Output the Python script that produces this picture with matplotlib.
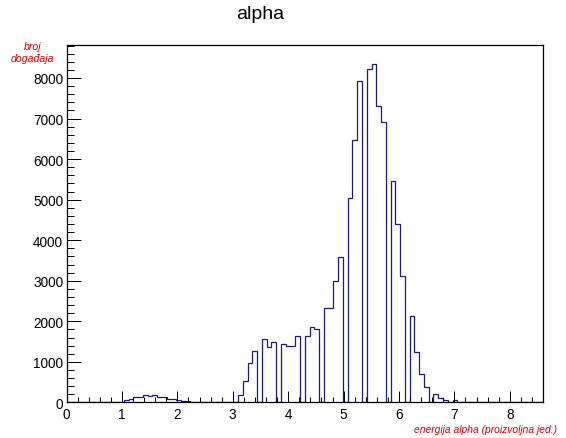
import numpy as np
import matplotlib
matplotlib.use("Agg")
import matplotlib.pyplot as plt
from matplotlib.ticker import MultipleLocator

plt.rcParams['font.family'] = ['Liberation Sans', 'DejaVu Sans']

# Histogram: 100 bins from 0 to 8.6
x_min, x_max, n_bins = 0.0, 8.6, 100
counts = [
    0, 0, 0, 0, 0, 0, 0, 0, 0, 0,              # 0-9
    8, 20, 65, 80, 130, 135, 195, 150, 190, 135,  # 10-19
    130, 95, 85, 57, 45, 25, 15, 5, 0, 0,      # 20-29
    0, 0, 0, 3, 8, 10, 180, 530, 973, 1260,    # 30-39
    0, 1560, 1375, 1497, 0, 1440, 1382, 1400, 1637, 0,  # 40-49
    1644, 1873, 1816, 0, 2340, 2340, 3007, 3587, 0, 5033,  # 50-59
    6460, 7934, 0, 8210, 8350, 7315, 6920, 0, 5450, 4400,  # 60-69
    3130, 0, 2130, 1250, 700, 370, 0, 200, 110, 60,  # 70-79
    0, 50, 20, 20, 15, 0, 10, 10, 15, 0,       # 80-89
    15, 5, 0, 0, 0, 0, 0, 0, 0, 0,             # 90-99
]
title = "alpha"
xlabel = "energija alpha (proizvoljna jed.)"
ylabel = "broj\ndogađaja"

edges = np.linspace(x_min, x_max, n_bins + 1)

fig = plt.figure(figsize=(5.66, 4.39), dpi=100)
ax = fig.add_axes([0.1177, 0.0809, 0.9594 - 0.1177, 0.8959 - 0.0809])

ax.stairs(counts, edges, baseline=0, color='#1c1c78', linewidth=0.9)

ax.set_xlim(x_min, x_max)
ax.set_ylim(0, 8820)

ax.xaxis.set_major_locator(MultipleLocator(1))
ax.xaxis.set_minor_locator(MultipleLocator(0.2))
ax.yaxis.set_major_locator(MultipleLocator(1000))
ax.yaxis.set_minor_locator(MultipleLocator(200))

ax.tick_params(axis='x', which='major', direction='in', length=7.7, width=0.7,
               pad=3.5, labelsize=9.8, top=False)
ax.tick_params(axis='x', which='minor', direction='in', length=3.9, width=0.7, top=False)
ax.tick_params(axis='y', which='major', direction='in', length=10.3, width=0.7,
               pad=2.5, labelsize=9.8, right=False)
ax.tick_params(axis='y', which='minor', direction='in', length=5.2, width=0.7, right=False)

for s in ax.spines.values():
    s.set_linewidth(0.9)
    s.set_color('black')

fig.text(0.459, 0.966, title, ha='center', va='center', fontsize=14)
fig.text(0.058, 0.879, ylabel, ha='center', va='center', fontsize=7.6,
         style='italic', color='#d40000', multialignment='center', linespacing=1.2)
fig.text(0.9836, 0.0205, xlabel, ha='right', va='center', fontsize=7.4,
         style='italic', color='#d40000')

fig.savefig('out.png', dpi=100)
